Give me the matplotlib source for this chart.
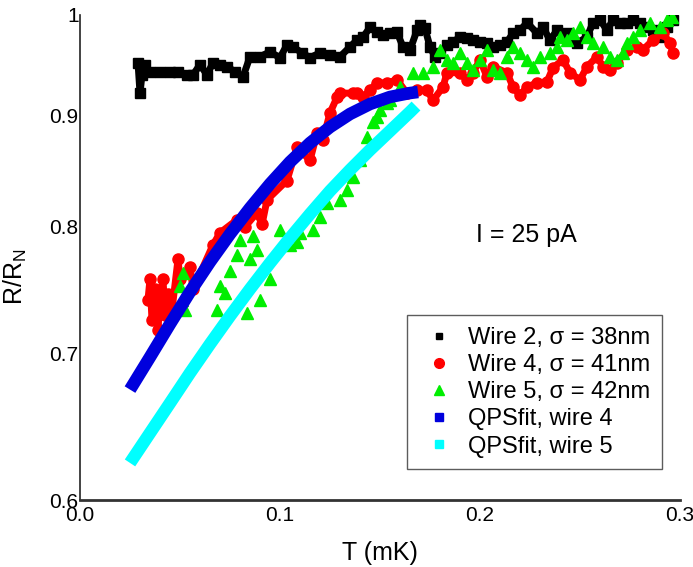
import matplotlib
matplotlib.use("Agg")
import matplotlib.pyplot as plt
from matplotlib.lines import Line2D
from matplotlib.ticker import FixedLocator, FixedFormatter, NullLocator

plt.rcParams["font.family"] = ["Liberation Sans", "DejaVu Sans"]
plt.rcParams["mathtext.fontset"] = "custom"
plt.rcParams["mathtext.rm"] = "Liberation Sans"

# ----- DATA -----
w2_T = [0.029, 0.030, 0.031, 0.0325, 0.035, 0.040, 0.045, 0.049, 0.0535, 0.0565,
        0.060, 0.0635, 0.0665, 0.070, 0.0735, 0.0775, 0.0815, 0.085, 0.090, 0.095,
        0.100, 0.1035, 0.1065, 0.111, 0.115, 0.120, 0.125, 0.130, 0.135, 0.1385,
        0.1415, 0.145, 0.1485, 0.1515, 0.155, 0.1585, 0.1615, 0.165, 0.1685, 0.170,
        0.1725, 0.175, 0.1775, 0.180, 0.1835, 0.1865, 0.190, 0.1935, 0.1965, 0.200,
        0.2035, 0.2065, 0.210, 0.2135, 0.2165, 0.220, 0.2235, 0.2285, 0.2315, 0.235,
        0.2385, 0.2435, 0.2485, 0.2535, 0.2565, 0.260, 0.2635, 0.2665, 0.270, 0.2735,
        0.2765, 0.280, 0.2835, 0.2865, 0.290, 0.2935, 0.2965]
w2_R = [0.951, 0.921, 0.939, 0.949, 0.942, 0.942, 0.942, 0.942, 0.939, 0.939,
        0.949, 0.939, 0.951, 0.949, 0.947, 0.942, 0.937, 0.957, 0.957, 0.962,
        0.956, 0.969, 0.967, 0.961, 0.956, 0.961, 0.959, 0.957, 0.967, 0.974,
        0.977, 0.987, 0.982, 0.979, 0.981, 0.982, 0.967, 0.964, 0.984, 0.990,
        0.986, 0.967, 0.957, 0.961, 0.969, 0.972, 0.977, 0.976, 0.974, 0.972,
        0.971, 0.967, 0.969, 0.972, 0.981, 0.984, 0.992, 0.981, 0.987, 0.974,
        0.984, 0.981, 0.971, 0.977, 0.992, 0.995, 0.984, 0.995, 0.992, 0.992,
        0.995, 0.992, 0.987, 0.984, 0.977, 0.987, 0.995]

w4_T = [0.034, 0.035, 0.036, 0.0375, 0.039, 0.040, 0.0415, 0.0425, 0.044, 0.046,
        0.049, 0.050, 0.055, 0.0565, 0.0665, 0.070, 0.0785, 0.0825, 0.0885, 0.091,
        0.0935, 0.1035, 0.1085, 0.115, 0.1185, 0.1215, 0.125, 0.1285, 0.130, 0.1365,
        0.1385, 0.1415, 0.145, 0.1485, 0.1535, 0.1585, 0.1635, 0.1685, 0.1735, 0.1765,
        0.1815, 0.1835, 0.190, 0.1935, 0.1965, 0.200, 0.2035, 0.2065, 0.2135, 0.2165,
        0.220, 0.2235, 0.2285, 0.2335, 0.2365, 0.2415, 0.245, 0.250, 0.2535, 0.2585,
        0.2615, 0.265, 0.2685, 0.2735, 0.2785, 0.2815, 0.2865, 0.2915, 0.295, 0.2965]
w4_R = [0.741, 0.757, 0.725, 0.749, 0.718, 0.741, 0.757, 0.729, 0.745, 0.733,
        0.773, 0.757, 0.767, 0.749, 0.785, 0.795, 0.806, 0.800, 0.812, 0.802,
        0.823, 0.840, 0.870, 0.858, 0.883, 0.877, 0.902, 0.917, 0.921, 0.921,
        0.921, 0.917, 0.924, 0.931, 0.931, 0.934, 0.921, 0.924, 0.924, 0.914,
        0.927, 0.941, 0.941, 0.934, 0.941, 0.954, 0.937, 0.947, 0.941, 0.927,
        0.919, 0.927, 0.931, 0.932, 0.946, 0.954, 0.941, 0.934, 0.947, 0.957,
        0.947, 0.944, 0.951, 0.964, 0.967, 0.964, 0.974, 0.981, 0.971, 0.961]

w5_T = [0.050, 0.051, 0.0515, 0.0525, 0.0685, 0.070, 0.0725, 0.075, 0.0785, 0.080,
        0.0835, 0.085, 0.0865, 0.0885, 0.090, 0.095, 0.100, 0.105, 0.1085, 0.110,
        0.1165, 0.120, 0.1235, 0.130, 0.1335, 0.1365, 0.140, 0.1435, 0.1465, 0.1485,
        0.150, 0.1535, 0.155, 0.160, 0.1665, 0.1715, 0.1765, 0.180, 0.1835, 0.1865,
        0.190, 0.1935, 0.1965, 0.200, 0.2035, 0.2065, 0.210, 0.2135, 0.2165, 0.220,
        0.2235, 0.2265, 0.230, 0.235, 0.2385, 0.240, 0.2435, 0.2465, 0.250, 0.2535,
        0.2565, 0.2615, 0.265, 0.2685, 0.2715, 0.2735, 0.2765, 0.280, 0.285, 0.290,
        0.2935, 0.296]
w5_R = [0.752, 0.741, 0.762, 0.733, 0.733, 0.752, 0.746, 0.764, 0.777, 0.789,
        0.731, 0.773, 0.792, 0.781, 0.741, 0.757, 0.797, 0.785, 0.787, 0.795,
        0.797, 0.808, 0.820, 0.823, 0.832, 0.843, 0.858, 0.879, 0.893, 0.898,
        0.905, 0.911, 0.914, 0.927, 0.941, 0.941, 0.947, 0.964, 0.954, 0.951,
        0.961, 0.951, 0.944, 0.954, 0.964, 0.944, 0.941, 0.957, 0.967, 0.961,
        0.954, 0.947, 0.957, 0.961, 0.967, 0.977, 0.974, 0.981, 0.987, 0.977,
        0.971, 0.967, 0.957, 0.954, 0.961, 0.971, 0.977, 0.984, 0.992, 0.987,
        0.995, 0.998]

fit4_T = [0.025, 0.035, 0.045, 0.055, 0.065, 0.075, 0.085, 0.095, 0.105, 0.115,
          0.125, 0.135, 0.145, 0.155, 0.165, 0.169]
fit4_R = [0.674, 0.6975, 0.7222, 0.7470, 0.7710, 0.7940, 0.8160, 0.8370, 0.8566, 0.8739,
          0.8887, 0.9010, 0.9105, 0.9173, 0.9211, 0.9221]

fit5_T = [0.025, 0.035, 0.045, 0.055, 0.065, 0.075, 0.085, 0.095, 0.105, 0.115,
          0.125, 0.135, 0.145, 0.155, 0.165, 0.168]
fit5_R = [0.6239, 0.6439, 0.6645, 0.6859, 0.7071, 0.7283, 0.7493, 0.7701, 0.7907, 0.8109,
          0.8308, 0.8494, 0.8675, 0.8850, 0.9029, 0.9086]

labels = ["Wire 2, \u03c3 = 38nm", "Wire 4, \u03c3 = 41nm", "Wire 5, \u03c3 = 42nm",
          "QPSfit, wire 4", "QPSfit, wire 5"]
y_ticks = [0.6, 0.7, 0.8, 0.9, 1.0]
y_ticklabels = ["0.6", "0.7", "0.8", "0.9", "1"]
x_ticks = [0.0, 0.1, 0.2, 0.3]
x_ticklabels = ["0.0", "0.1", "0.2", "0.3"]

# ----- PLOT -----
fig = plt.figure(figsize=(6.93, 5.67), dpi=100)
ax = fig.add_axes([80 / 693, 67 / 567, 600 / 693, 485 / 567])

ax.plot(w2_T, w2_R, color="black", marker="s", ms=7, lw=5, ls="-")
ax.plot(w4_T, w4_R, color="red", marker="o", ms=8, lw=5, ls="-")
ax.plot(w5_T, w5_R, color="#00ee00", marker="^", ms=8, ls="none")
ax.plot(fit4_T, fit4_R, color="#0000dd", lw=9, solid_capstyle="butt", solid_joinstyle="round")
ax.plot(fit5_T, fit5_R, color="cyan", lw=9, solid_capstyle="butt", solid_joinstyle="round")

ax.set_yscale("log")
ax.set_ylim(0.6, 1.0)
ax.set_xlim(0.0, 0.3)
ax.yaxis.set_major_locator(FixedLocator(y_ticks))
ax.yaxis.set_major_formatter(FixedFormatter(y_ticklabels))
ax.yaxis.set_minor_locator(NullLocator())
ax.set_xticks(x_ticks)
ax.set_xticklabels(x_ticklabels)
ax.tick_params(length=0, labelsize=15, pad=1)
ax.tick_params(axis="x", pad=4)

for s in ["top", "right"]:
    ax.spines[s].set_visible(False)
ax.spines["left"].set_linewidth(1.2)
ax.spines["bottom"].set_linewidth(2)
ax.spines["left"].set_color("#222222")
ax.spines["bottom"].set_color("#333333")

ax.set_xlabel("T (mK)", fontsize=18, labelpad=12)
ax.set_ylabel("R/R$_\\mathrm{N}$", fontsize=18)
ax.yaxis.set_label_coords(-0.085, 0.46)

ax.text(0.198, 0.793, "I = 25 pA", fontsize=18, ha="left", va="center")

handles = [
    Line2D([], [], color="black", marker="s", ms=5, ls="none"),
    Line2D([], [], color="red", marker="o", ms=7, ls="none"),
    Line2D([], [], color="#00ee00", marker="^", ms=7, ls="none"),
    Line2D([], [], color="#0000dd", marker="s", ms=6, ls="none"),
    Line2D([], [], color="cyan", marker="s", ms=6, ls="none"),
]
leg = ax.legend(handles, labels, loc="upper left", bbox_to_anchor=(407 / 693, 1 - 315 / 567),
                bbox_transform=fig.transFigure, borderaxespad=0, fontsize=17, frameon=True,
                fancybox=False, borderpad=0.5, labelspacing=0.22, handlelength=1.7,
                handletextpad=0.4)
leg.get_frame().set_edgecolor("#333333")
leg.get_frame().set_linewidth(1)

fig.savefig("out.png", dpi=100)
